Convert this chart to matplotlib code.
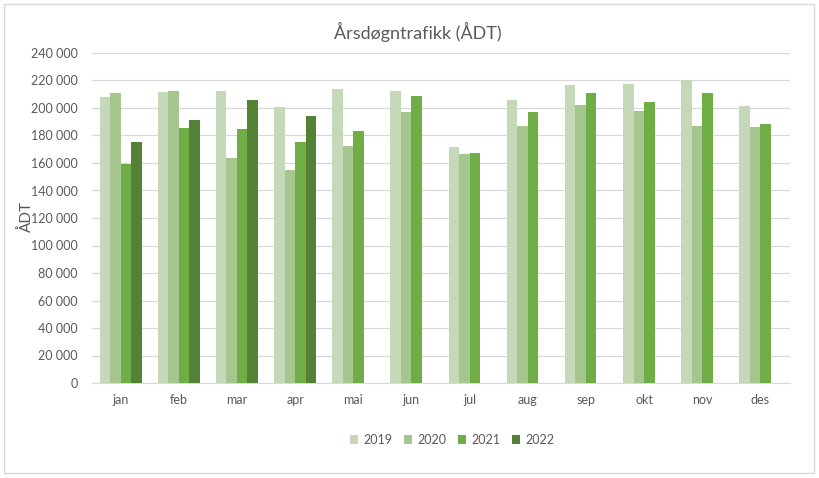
import matplotlib
matplotlib.use("Agg")
import matplotlib.pyplot as plt
import numpy as np
from matplotlib.patches import Rectangle

months = ["jan", "feb", "mar", "apr", "mai", "jun", "jul", "aug", "sep", "okt", "nov", "des"]
years = ["2019", "2020", "2021", "2022"]
v2019 = [208200, 211900, 212600, 201000, 214000, 212600, 171900, 206000, 217000, 217700, 220400, 201700]
v2020 = [211100, 212600, 163900, 155200, 172600, 197300, 166800, 187200, 202400, 198000, 187200, 186400]
v2021 = [159500, 185700, 185000, 175500, 183500, 209000, 167500, 197300, 211100, 204600, 211100, 188600]
v2022 = [175500, 191500, 206000, 194400, np.nan, np.nan, np.nan, np.nan, np.nan, np.nan, np.nan, np.nan]
series = [v2019, v2020, v2021, v2022]
colors = ["#C5D9B9", "#A6C690", "#70AD47", "#548235"]

plt.rcParams['font.family'] = ['Lato', 'DejaVu Sans']
txt = "#595959"

fig = plt.figure(figsize=(8.19, 4.78), dpi=100)
ax = fig.add_axes([91.5/819, 1-383/478, 698/819, 330/478])

x = np.arange(len(months))
w = 0.18
for i, (vals, c, y) in enumerate(zip(series, colors, years)):
    ax.bar(x + (i - 1.5) * w, vals, width=w, color=c, label=y, zorder=3)

ax.set_xlim(-0.5, len(months) - 0.5)
ax.set_ylim(0, 240000)
ticks = np.arange(0, 240001, 20000)
ax.set_yticks(ticks)
ax.set_yticklabels([f"{t:,}".replace(",", " ") for t in ticks], fontsize=9, color=txt)
ax.set_xticks(x)
ax.set_xticklabels(months, fontsize=9, color=txt)
ax.tick_params(axis='both', length=0)
ax.tick_params(axis='y', pad=10)
ax.tick_params(axis='x', pad=8)
ax.grid(axis='y', color="#D9D9D9", linewidth=0.9, zorder=0)
for s in ["top", "right", "left"]:
    ax.spines[s].set_visible(False)
ax.spines["bottom"].set_color("#D9D9D9")

fig.text(26/819, 1-217/478, "ÅDT", rotation=90, ha="center", va="center", fontsize=11, color=txt)
fig.text(418/819, 1-32/478, "Årsdøgntrafikk (ÅDT)", ha="center", va="center", fontsize=13, color=txt)

leg = fig.legend(loc="center", bbox_to_anchor=(452/819, 1-440/478), ncol=4, frameon=False,
                 fontsize=9, handlelength=0.7, handleheight=0.7, handletextpad=0.4, columnspacing=0.9)
for t in leg.get_texts():
    t.set_color(txt)

fig.patches.append(Rectangle((4/819, 1-473/478), 810/819, 469/478, transform=fig.transFigure,
                             fill=False, edgecolor="#D9D9D9", linewidth=1))

fig.savefig("out.png", dpi=100)
